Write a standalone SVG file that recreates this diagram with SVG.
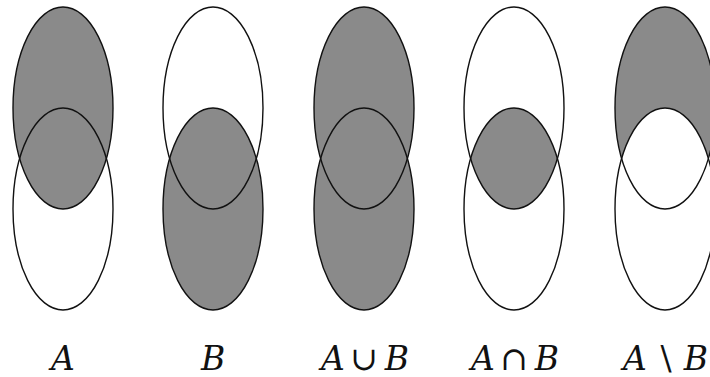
<svg xmlns="http://www.w3.org/2000/svg" xmlns:xlink="http://www.w3.org/1999/xlink" width="710" height="377" viewBox="0 0 710 377">
<style>
.o{fill:none;stroke:#111;stroke-width:1.4}
.f{fill:#8a8a8a;stroke:none}
.w{fill:#fff;stroke:none}
.lbl{font-family:"DejaVu Serif",serif;font-size:33px;fill:#111;text-anchor:middle}
.it{font-style:italic}
</style>
<defs>
<ellipse id="ea" cx="0" cy="108" rx="50" ry="101"/>
<ellipse id="eb" cx="0" cy="209" rx="50" ry="101"/>
<clipPath id="ca"><ellipse cx="0" cy="108" rx="50" ry="101"/></clipPath>
</defs>
<rect width="710" height="377" fill="#fff"/>
<g id="setA" transform="translate(63,0)">
<use xlink:href="#ea" class="f"/>
<use xlink:href="#ea" class="o"/><use xlink:href="#eb" class="o"/>
<text class="lbl it" x="0" y="370">A</text>
</g>
<g id="setB" transform="translate(213,0)">
<use xlink:href="#eb" class="f"/>
<use xlink:href="#ea" class="o"/><use xlink:href="#eb" class="o"/>
<text class="lbl it" x="0" y="370">B</text>
</g>
<g id="union" transform="translate(364,0)">
<use xlink:href="#ea" class="f"/><use xlink:href="#eb" class="f"/>
<use xlink:href="#ea" class="o"/><use xlink:href="#eb" class="o"/>
<text class="lbl" y="370"><tspan class="it" x="-31">A</tspan><tspan x="0">∪</tspan><tspan class="it" x="33">B</tspan></text>
</g>
<g id="intersection" transform="translate(514,0)">
<use xlink:href="#eb" class="f" clip-path="url(#ca)"/>
<use xlink:href="#ea" class="o"/><use xlink:href="#eb" class="o"/>
<text class="lbl" y="370"><tspan class="it" x="-31">A</tspan><tspan x="0">∩</tspan><tspan class="it" x="33">B</tspan></text>
</g>
<g id="difference" transform="translate(665,0)">
<use xlink:href="#ea" class="f"/>
<use xlink:href="#eb" class="w" clip-path="url(#ca)"/>
<use xlink:href="#ea" class="o"/><use xlink:href="#eb" class="o"/>
<text class="lbl" y="370"><tspan class="it" x="-30">A</tspan><tspan x="1">\</tspan><tspan class="it" x="31">B</tspan></text>
</g>
</svg>
